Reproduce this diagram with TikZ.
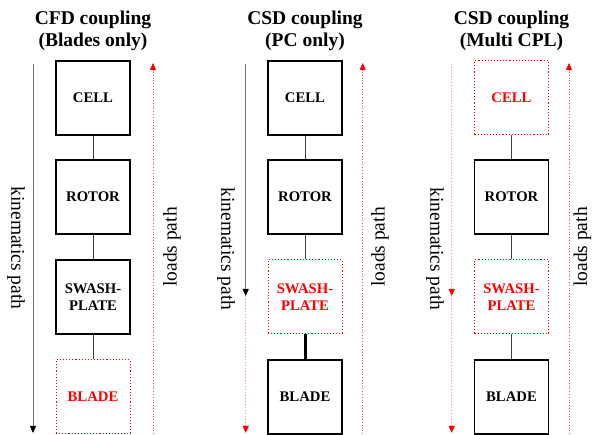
\documentclass[tikz,border=0pt]{standalone}
\usepackage{fontspec}
\setmainfont{Liberation Serif}
\usetikzlibrary{arrows.meta}
\begin{document}
\begin{tikzpicture}[x=1pt,y=-1pt,
  box/.style={draw, line width=1.1pt, minimum width=74, minimum height=74, inner sep=0pt,
    font=\fontsize{14.7}{17}\selectfont\bfseries, align=center},
  redbox/.style={box, draw=red, dotted, line width=1pt, text=red},
  link/.style={draw=black!75, line width=1pt},
  thicklink/.style={draw=black, line width=3pt},
  kin/.style={draw=black!55, line width=0.8pt},
  kinred/.style={draw=red!45, dotted, line width=1pt},
  loads/.style={draw=red!70, dotted, line width=0.8pt},
  tipblack/.style={-{Triangle[length=7pt,width=6pt,fill=black,color=black]}},
  tipred/.style={-{Triangle[length=7pt,width=6pt,fill=red,color=red]}},
  title/.style={font=\fontsize{19.5}{22}\selectfont\bfseries, align=center, inner sep=0pt},
  lbl/.style={font=\fontsize{19.5}{22}\selectfont, inner sep=0pt}
]
\useasboundingbox (0,0) rectangle (592,435);

% ---------- Column 1 ----------
\node[title] (t1) at (93,31) {CFD coupling\\(Blades only)};
\node[box] (c1) at (93,98) {CELL};
\node[box] (r1) at (93,197) {ROTOR};
\node[box] (s1) at (93,297) {SWASH-\\PLATE};
\node[redbox] (b1) at (93,397) {BLADE};
\draw[link] (c1) -- (r1);
\draw[link] (r1) -- (s1);
\draw[link] (s1) -- (b1);
\coordinate (k1a) at (33,64);
\coordinate (k1b) at (33,433);
\draw[kin, tipblack] (k1a) -- (k1b);
\coordinate (l1a) at (153,434);
\coordinate (l1b) at (153,63);
\draw[loads, tipred] (l1a) -- (l1b);
\node[lbl, rotate=-90] (kt1) at (16,248) {kinematics path};
\node[lbl, rotate=90] (lt1) at (172,247) {loads path};

% ---------- Column 2 ----------
\node[title] (t2) at (305,31) {CSD coupling\\(PC only)};
\node[box] (c2) at (305,98) {CELL};
\node[box] (r2) at (305,197) {ROTOR};
\node[redbox] (s2) at (305,297) {SWASH-\\PLATE};
\node[box] (b2) at (305,397) {BLADE};
\draw[link] (c2) -- (r2);
\draw[link] (r2) -- (s2);
\draw[thicklink] (s2) -- (b2);
\coordinate (k2a) at (245.7,64);
\coordinate (k2m) at (245.7,296);
\coordinate (k2b) at (245.7,433);
\draw[kin, tipblack] (k2a) -- (k2m);
\draw[kinred, tipred] (k2m) -- (k2b);
\coordinate (l2a) at (362.7,434);
\coordinate (l2b) at (362.7,63);
\draw[loads, tipred] (l2a) -- (l2b);
\node[lbl, rotate=-90] (kt2) at (226,249) {kinematics path};
\node[lbl, rotate=90] (lt2) at (380,247) {loads path};

% ---------- Column 3 ----------
\node[title] (t3) at (511.5,31) {CSD coupling\\(Multi CPL)};
\node[redbox] (c3) at (511.5,98) {CELL};
\node[box] (r3) at (511.5,197) {ROTOR};
\node[redbox] (s3) at (511.5,297) {SWASH-\\PLATE};
\node[box] (b3) at (511.5,397) {BLADE};
\draw[link] (c3) -- (r3);
\draw[link] (r3) -- (s3);
\draw[link] (s3) -- (b3);
\coordinate (k3a) at (451.7,64);
\coordinate (k3m) at (451.7,296);
\coordinate (k3b) at (451.7,433);
\draw[kinred, tipred] (k3a) -- (k3m);
\draw[kinred, tipred] (k3m) -- (k3b);
\coordinate (l3a) at (569,434);
\coordinate (l3b) at (569,63);
\draw[loads, tipred] (l3a) -- (l3b);
\node[lbl, rotate=-90] (kt3) at (435,249) {kinematics path};
\node[lbl, rotate=90] (lt3) at (582.5,247) {loads path};
\end{tikzpicture}
\end{document}
